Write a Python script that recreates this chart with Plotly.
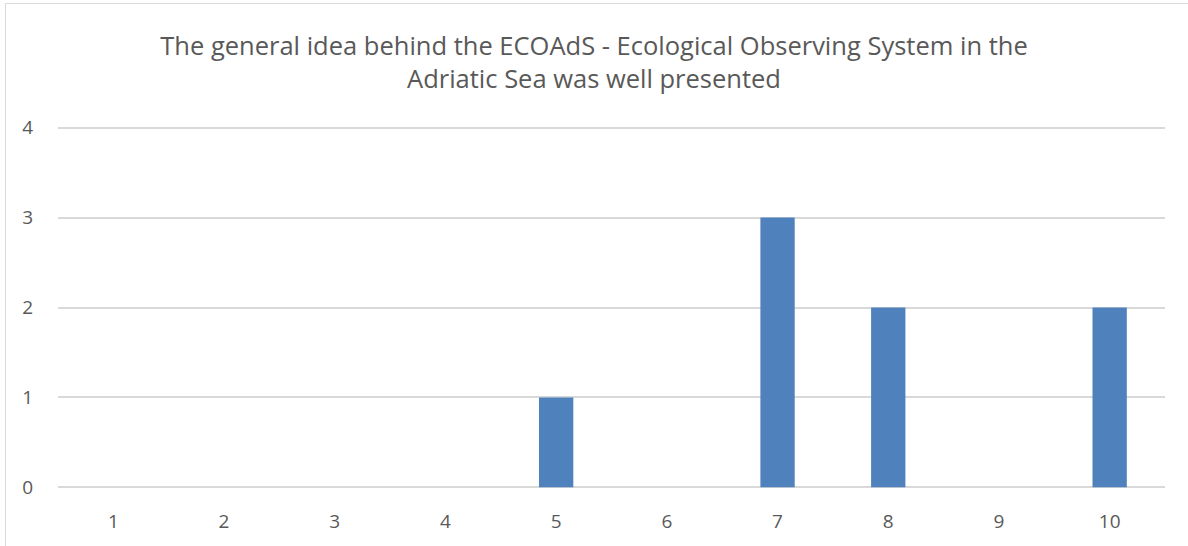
import plotly.graph_objects as go

categories = ["1", "2", "3", "4", "5", "6", "7", "8", "9", "10"]
values = [0, 0, 0, 0, 1, 0, 3, 2, 0, 2]
y_ticks = [0, 1, 2, 3, 4]
title_text = ("The general idea behind the ECOAdS - Ecological Observing System in the<br>"
              "Adriatic Sea was well presented")

W, H = 1188, 546
L, R, T, B = 58, 23, 125, 56
pw = W - L - R
ph = H - T - B

fig = go.Figure(go.Bar(
    x=categories, y=values,
    marker=dict(color="#4F81BD", line=dict(width=0)),
))

fig.update_layout(
    width=W, height=H,
    margin=dict(l=L, r=R, t=T, b=B),
    paper_bgcolor="white", plot_bgcolor="white",
    bargap=0.69,
    showlegend=False,
    font=dict(family="Open Sans, Liberation Sans, sans-serif", color="#595959", size=19),
    title=dict(text=title_text, x=0.5, xanchor="center", y=1 - 55 / H, yanchor="middle",
               font=dict(size=25.5, color="#595959")),
    xaxis=dict(type="category", showgrid=False, showline=False, ticks="outside",
               ticklen=14, tickcolor="rgba(0,0,0,0)", automargin=False,
               tickfont=dict(size=19, color="#595959")),
    yaxis=dict(range=[-0.03, 4.03], tickvals=y_ticks, showgrid=True, gridcolor="#D9D9D9",
               gridwidth=1.5, zeroline=False, showline=False, ticks="outside",
               ticklen=20, tickcolor="rgba(0,0,0,0)", automargin=False,
               tickfont=dict(size=19, color="#595959")),
    shapes=[dict(type="rect", xref="paper", yref="paper",
                 x0=-(L - 5.5) / pw, x1=1 + (R + 10) / pw,
                 y0=-(B + 10) / ph, y1=1 + (T - 3.5) / ph,
                 line=dict(color="#D9D9D9", width=1), fillcolor="rgba(0,0,0,0)", layer="below")],
)

fig.write_html("out.html", config={"displayModeBar": False},
               post_script="document.body.style.margin='0';document.body.style.overflow='hidden';")
